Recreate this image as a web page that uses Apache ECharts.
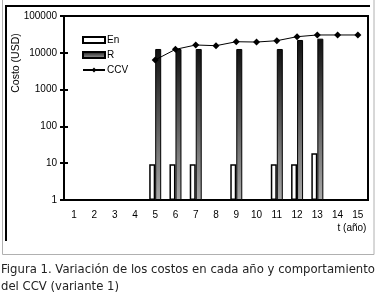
<!DOCTYPE html>
<html lang="es" style="height: 100%;margin: 0;background-color: #fff;">
<head>
    <meta charset="UTF-8">
    <title>chart</title>
</head>
<body style="height: 100%;margin: 0;background-color: #fff;">
<div id="chart" style="width: 378px;height: 300px;margin: 0;"></div>
<script src="https://cdn.jsdelivr.net/npm/echarts@6/dist/echarts.min.js"></script>
<script>
    var years = ["1", "2", "3", "4", "5", "6", "7", "8", "9", "10", "11", "12", "13", "14", "15"];
    var legendNames = ["En", "R", "CCV"];
    var enValues = [null, null, null, null, 9.3, 9.3, 9.3, null, 9.3, null, 9.3, 9.3, 18.6, null, null];
    var rValues = [null, null, null, null, 12700, 12700, 12700, null, 12700, null, 12700, 22300, 24200, null, null];
    var ccvValues = [null, null, null, null, 6400, 12400, 16300, 15600, 20000, 19600, 21300, 27400, 30500, 30500, 30500];
    var yMin = 1, yMax = 100000;
    var yTitle = "Costo (USD)";
    var xTitle = "t (año)";
    var caption = ["Figura 1. Variación de los costos en cada año y comportamiento", "del CCV (variante 1)"];

    var myChart = echarts.init(document.getElementById("chart"), null, {renderer: 'canvas'});
    var font = "'Liberation Sans', Arial, sans-serif";
    var capFont = "'DejaVu Sans', 'Noto Sans', sans-serif";

    // fit the caption line to the picture width
    var ctx = document.createElement("canvas").getContext("2d");
    ctx.font = "12px " + capFont;
    var capSize = 12 * 374 / ctx.measureText(caption[0]).width;

    var grid = {left: 64, top: 16, width: 304, height: 184};

    var option = {
        backgroundColor: '#fff',
        animation: false,
        grid: Object.assign({show: true, borderColor: '#000', borderWidth: 2, backgroundColor: 'transparent'}, grid),
        legend: {
            data: legendNames.map(function (n, i) { return {name: n, icon: i < 2 ? 'rect' : undefined}; }),
            orient: 'vertical',
            left: 77,
            top: 30,
            itemWidth: 22,
            itemHeight: 6,
            itemGap: 5,
            textStyle: {fontSize: 10, fontFamily: font, color: '#000', padding: [0, 0, 0, -3]}
        },
        xAxis: [{
            type: 'category',
            data: years,
            axisLine: {lineStyle: {color: '#000', width: 2}},
            axisTick: {length: 4, lineStyle: {color: '#000', width: 2}},
            axisLabel: {fontSize: 10, fontFamily: font, color: '#000', margin: 10}
        }, {
            type: 'category',
            data: years,
            position: 'bottom',
            axisLine: {show: false},
            axisTick: {inside: true, length: 4, lineStyle: {color: '#000', width: 2}},
            axisLabel: {show: false}
        }],
        yAxis: [{
            type: 'log',
            logBase: 10,
            min: yMin,
            max: yMax,
            splitLine: {show: false},
            axisLine: {show: true, lineStyle: {color: '#000', width: 2}},
            axisTick: {show: true, length: 4, lineStyle: {color: '#000', width: 2}},
            axisLabel: {fontSize: 10, fontFamily: font, color: '#000', margin: 7,
                formatter: function (v) { return String(Math.round(v)); }}
        }, {
            type: 'log',
            logBase: 10,
            min: yMin,
            max: yMax,
            position: 'left',
            splitLine: {show: false},
            axisLine: {show: false},
            axisTick: {show: true, inside: true, length: 4, lineStyle: {color: '#000', width: 2}},
            axisLabel: {show: false}
        }],
        series: [{
            name: legendNames[0],
            type: 'bar',
            data: enValues,
            barWidth: 6,
            barGap: '0%',
            itemStyle: {color: '#fff', borderColor: '#000', borderWidth: 1.5}
        }, {
            name: legendNames[1],
            type: 'bar',
            data: rValues,
            barWidth: 6,
            barGap: '0%',
            itemStyle: {
                color: new echarts.graphic.LinearGradient(0, 0, 0, 1, [
                    {offset: 0, color: '#111'},
                    {offset: 1, color: '#a8a8a8'}
                ]),
                borderColor: '#000',
                borderWidth: 1
            }
        }, {
            name: legendNames[2],
            type: 'line',
            data: ccvValues,
            symbol: 'diamond',
            symbolSize: 7,
            lineStyle: {color: '#000', width: 1},
            itemStyle: {color: '#000'}
        }],
        graphic: [
            {type: 'rect', silent: true, shape: {x: 2.5, y: -1, width: 371.5, height: 255.5},
                style: {fill: 'none', stroke: '#b0b0b0', lineWidth: 1}},
            {type: 'polyline', silent: true, shape: {points: [[6, 241], [6, 6], [370, 6]]},
                style: {fill: 'none', stroke: '#000', lineWidth: 2}},
            {type: 'text', x: 16, y: 63, rotation: Math.PI / 2,
                style: {text: yTitle, font: '10.5px ' + font, fill: '#000', align: 'center', verticalAlign: 'middle'}},
            {type: 'text', x: 352, y: 228,
                style: {text: xTitle, font: '10px ' + font, fill: '#000', align: 'center', verticalAlign: 'middle'}},
            {type: 'text', x: 1, y: 270,
                style: {text: caption[0], font: capSize.toFixed(2) + 'px ' + capFont, fill: '#222', align: 'left', verticalAlign: 'middle'}},
            {type: 'text', x: 1, y: 287,
                style: {text: caption[1], font: capSize.toFixed(2) + 'px ' + capFont, fill: '#222', align: 'left', verticalAlign: 'middle'}}
        ]
    };
    myChart.setOption(option, true);
</script>
</body>
</html>
